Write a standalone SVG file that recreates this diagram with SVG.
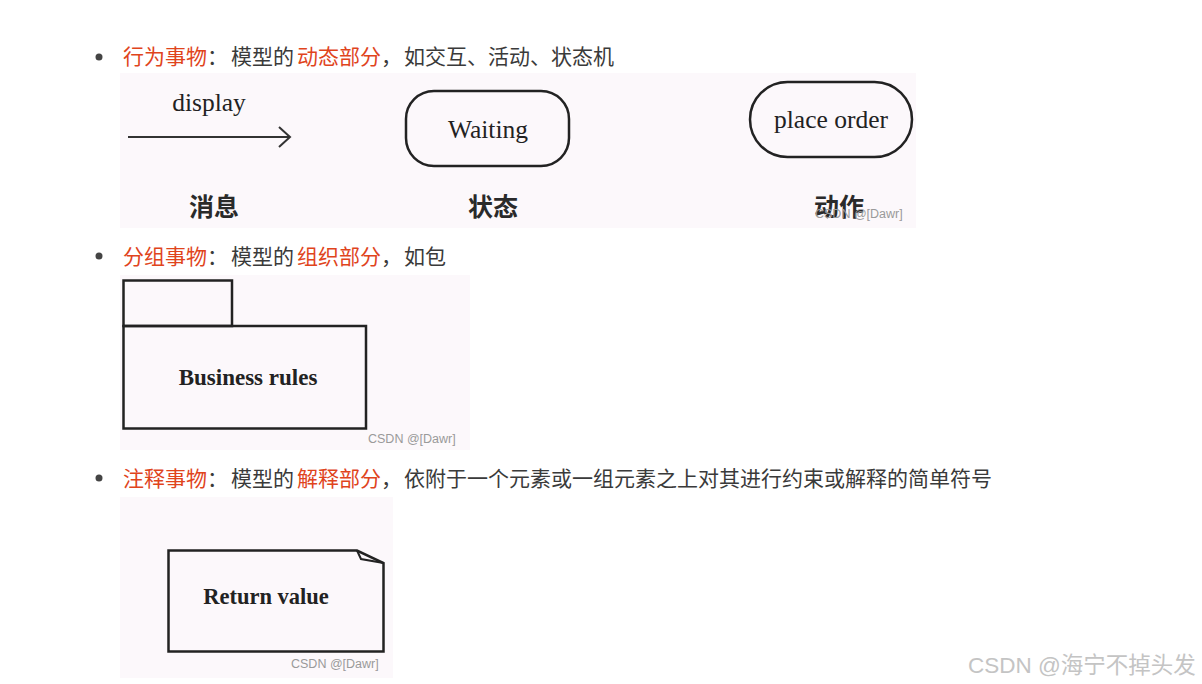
<svg xmlns="http://www.w3.org/2000/svg" width="1202" height="684" viewBox="0 0 1202 684">
<style>
.cn{font-family:"Noto Sans CJK SC","Noto Sans",sans-serif;font-size:21px;fill:#3a3a3a}
.red{fill:#e0441c}
.panel{fill:#fcf8fb}
.sh{fill:none;stroke:#222;stroke-width:2.5}
.ser{font-family:"Liberation Serif","Times New Roman",serif;fill:#222;text-anchor:middle}
.lab{font-family:"Noto Sans CJK SC",sans-serif;font-size:25px;font-weight:bold;fill:#2a2a2a;text-anchor:middle}
.wm{font-family:"Liberation Sans",Arial,sans-serif;font-size:12.5px;fill:#9a9a9a}
.bul{fill:#444}
</style>
<rect width="1202" height="684" fill="#ffffff"/>

<g id="heading1">
<circle class="bul" cx="99" cy="57" r="3.5"/>
<text class="cn" y="64"><tspan class="red" x="123">行为事物</tspan><tspan x="207">：</tspan><tspan x="231">模型的</tspan><tspan class="red" x="297">动态部分</tspan><tspan x="381">，</tspan><tspan x="404">如交互、活动、状态机</tspan></text>
</g>

<g id="panel1">
<rect class="panel" x="120" y="73" width="796" height="155"/>
<text class="ser" x="209" y="111" font-size="25.5">display</text>
<text class="lab" x="214" y="216">消息</text>
<text class="lab" x="493" y="216">状态</text>
<text class="lab" x="839" y="216">动作</text>
<text class="wm" x="815" y="218">CSDN @[Dawr]</text>
</g>

<g id="waiting">
<rect class="sh" x="406" y="91" width="163" height="75" rx="28"/>
<text class="ser" x="488" y="138" font-size="25.5">Waiting</text>
</g>

<g id="place-order">
<rect class="sh" x="750" y="82" width="162" height="75" rx="37.5"/>
<text class="ser" x="831" y="128" font-size="25.5">place order</text>
</g>

<g id="connectors">
<line x1="128" y1="137" x2="290" y2="137" stroke="#333" stroke-width="2"/>
<polyline points="279,127 290,137 279,147" fill="none" stroke="#333" stroke-width="2"/>
</g>

<g id="heading2">
<circle class="bul" cx="99" cy="256" r="3.5"/>
<text class="cn" y="264"><tspan class="red" x="123">分组事物</tspan><tspan x="207">：</tspan><tspan x="231">模型的</tspan><tspan class="red" x="297">组织部分</tspan><tspan x="381">，</tspan><tspan x="404">如包</tspan></text>
</g>

<g id="package">
<rect class="panel" x="120" y="275" width="350" height="175"/>
<rect class="sh" x="123.5" y="280.5" width="108.5" height="45.5"/>
<rect class="sh" x="123.5" y="326" width="242.5" height="102.5"/>
<text class="ser" x="248" y="385" font-size="23" font-weight="bold">Business rules</text>
<text class="wm" x="368" y="443">CSDN @[Dawr]</text>
</g>

<g id="heading3">
<circle class="bul" cx="99" cy="478" r="3.5"/>
<text class="cn" y="486"><tspan class="red" x="123">注释事物</tspan><tspan x="207">：</tspan><tspan x="231">模型的</tspan><tspan class="red" x="297">解释部分</tspan><tspan x="381">，</tspan><tspan x="404">依附于一个元素或一组元素之上对其进行约束或解释的简单符号</tspan></text>
</g>

<g id="note">
<rect class="panel" x="120" y="497" width="273" height="181"/>
<path class="sh" d="M168.5,550.5 H357 L383.5,563 V651.5 H168.5 Z"/>
<path d="M357,550.5 L361,559 L383.5,563" fill="none" stroke="#222" stroke-width="2"/>
<text class="ser" x="266" y="604" font-size="22.5" font-weight="bold">Return value</text>
<text class="wm" x="291" y="668">CSDN @[Dawr]</text>
</g>

<g id="watermark">
<text x="968" y="673" font-family="'Liberation Sans','Noto Sans CJK SC',sans-serif" font-size="22.5" fill="#c4c4c4">CSDN @海宁不掉头发</text>
</g>
</svg>
